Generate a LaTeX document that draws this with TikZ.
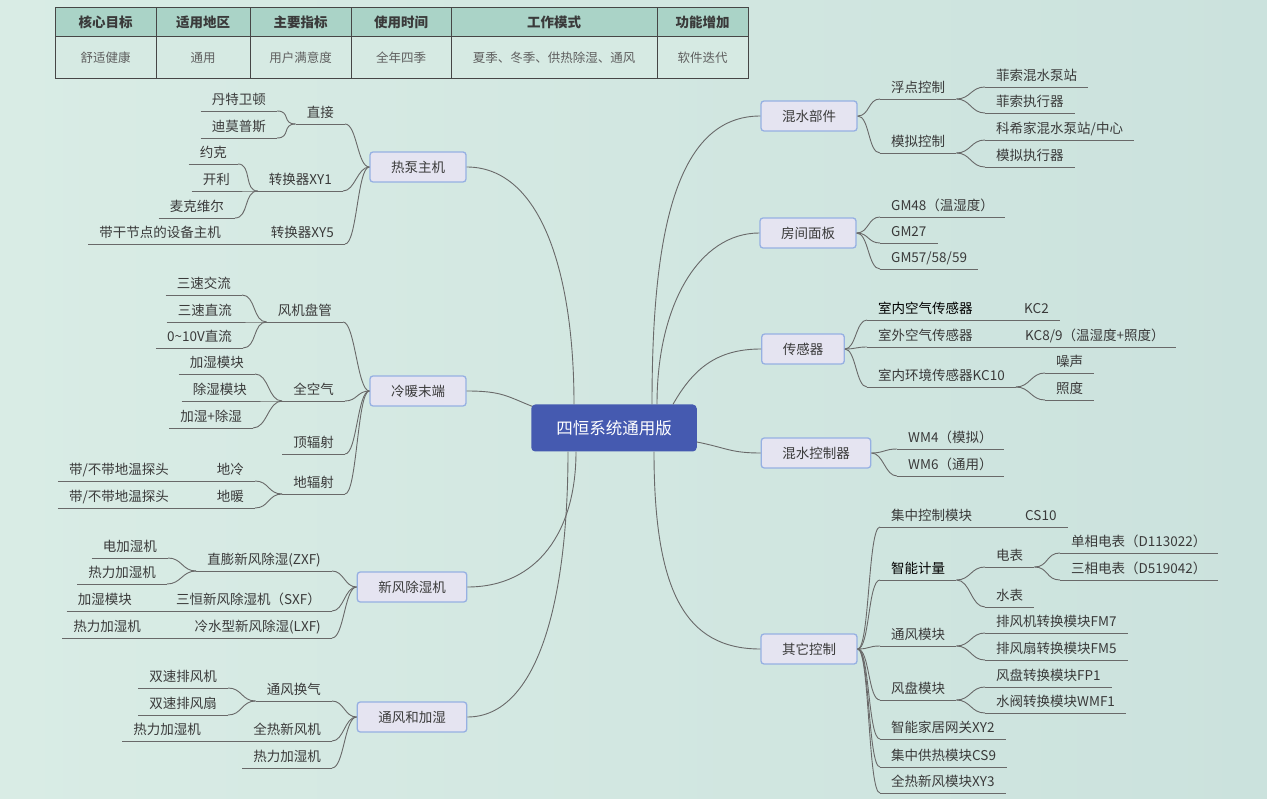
\documentclass[tikz,border=0pt]{standalone}
\usepackage{fontspec}
\setmainfont{Noto Sans CJK SC}
\usetikzlibrary{calc}

\definecolor{bgl}{RGB}{217,236,229}
\definecolor{bgr}{RGB}{203,226,221}
\definecolor{lnc}{RGB}{105,105,105}
\definecolor{txc}{RGB}{58,58,58}
\definecolor{boxf}{RGB}{229,228,241}
\definecolor{boxd}{RGB}{150,176,226}
\definecolor{hubf}{RGB}{69,90,176}
\definecolor{tabh}{RGB}{170,211,199}
\definecolor{tabb}{RGB}{214,234,227}
\definecolor{tabd}{RGB}{70,70,70}
\definecolor{tabt}{RGB}{95,95,95}

\newcommand\fitem{\fontsize{13.5}{15}\selectfont}

\tikzset{
  lnk/.style={draw=lnc, line width=0.9pt},
  item/.style={font=\fitem, text=txc, inner xsep=11pt, inner ysep=3pt,
    text height=10.5pt, text depth=3pt,
    append after command={(\tikzlastnode.south west) edge[lnk] (\tikzlastnode.south east)}},
  iteml/.style={item, anchor=south east},
  itemr/.style={item, anchor=south west},
  topbox/.style={font=\fitem, text=txc, draw=boxd, fill=boxf, line width=1.3pt,
    rounded corners=3pt, minimum height=30pt, inner xsep=21pt, inner ysep=0pt},
  hubbox/.style={fill=hubf, text=white, font=\fontsize{16.5}{18}\selectfont,
    rounded corners=4pt, minimum height=47pt, inner xsep=25pt},
  tabhead/.style={draw=tabd, fill=tabh, line width=1pt, text=txc, inner sep=0pt,
    font=\fontsize{13.5}{15}\selectfont\bfseries, minimum height=29.5pt},
  tabbody/.style={draw=tabd, fill=tabb, line width=1pt, text=tabt, inner sep=0pt,
    font=\fontsize{12.5}{14}\selectfont, minimum height=42pt},
  lbr/.style={to path={.. controls +(-#1,0) and +(#1,0) .. (\tikztotarget)}},
  lbr/.default=14,
  rbr/.style={to path={.. controls +(#1,0) and +(-#1,0) .. (\tikztotarget)}},
  rbr/.default=14,
}

\begin{document}
\begin{tikzpicture}[x=1pt,y=-1pt]
\useasboundingbox (0,0) rectangle (1267,799);
\shade[left color=bgl, right color=bgr] (0,0) rectangle (1267,799);

% table
\node[tabhead, minimum width=101pt] (th1) at (105.5,22.25) {核心目标};
\node[tabhead, minimum width=94pt] (th2) at (203,22.25) {适用地区};
\node[tabhead, minimum width=101pt] (th3) at (300.5,22.25) {主要指标};
\node[tabhead, minimum width=100pt] (th4) at (401,22.25) {使用时间};
\node[tabhead, minimum width=206pt] (th5) at (554,22.25) {工作模式};
\node[tabhead, minimum width=91pt] (th6) at (702.5,22.25) {功能增加};
\node[tabbody, minimum width=101pt] (tb1) at (105.5,58) {舒适健康};
\node[tabbody, minimum width=94pt] (tb2) at (203,58) {通用};
\node[tabbody, minimum width=101pt] (tb3) at (300.5,58) {用户满意度};
\node[tabbody, minimum width=100pt] (tb4) at (401,58) {全年四季};
\node[tabbody, minimum width=206pt] (tb5) at (554,58) {夏季、冬季、供热除湿、通风};
\node[tabbody, minimum width=91pt] (tb6) at (702.5,58) {软件迭代};

% hub
\node[hubbox] (hub) at (614,428) {四恒系统通用版};

% main branches
\node[topbox] (hp) at (418,167) {热泵主机};
\node[topbox] (lt) at (418,391) {冷暖末端};
\node[topbox] (xf) at (412,587) {新风除湿机};
\node[topbox] (tf) at (412,717) {通风和加湿};
\node[topbox] (hs) at (809,116) {混水部件};
\node[topbox] (fj) at (808,233) {房间面板};
\node[topbox] (cg) at (803,349) {传感器};
\node[topbox] (hk) at (816,453) {混水控制器};
\node[topbox] (qt) at (809,649) {其它控制};

% hub to branches
\draw[lnk] ($(hub.north)+(-40,0)$) .. controls +(0,-130) and +(75,0) .. (hp.east);
\draw[lnk] ($(hub.north west)+(1,2)$) .. controls +(-25,-10) and +(35,0) .. (lt.east);
\draw[lnk] ($(hub.south)+(-38,0)$) .. controls +(0,80) and +(70,0) .. (xf.east);
\draw[lnk] ($(hub.south)+(-46,0)$) .. controls +(0,150) and +(70,0) .. (tf.east);
\draw[lnk] ($(hub.north)+(38,0)$) .. controls +(0,-170) and +(-85,0) .. (hs.west);
\draw[lnk] ($(hub.north)+(43,0)$) .. controls +(0,-100) and +(-60,0) .. (fj.west);
\draw[lnk] ($(hub.north)+(59,0)$) .. controls +(20,-35) and +(-45,0) .. (cg.west);
\draw[lnk] ($(hub.east)+(0,14)$) .. controls +(30,6) and +(-30,0) .. (hk.west);
\draw[lnk] ($(hub.south)+(40,0)$) .. controls +(0,140) and +(-75,0) .. (qt.west);

% 热泵主机
\node[iteml] (hp1) at (345,124) {直接};
\node[iteml] (hp11) at (277,111) {丹特卫顿};
\node[iteml] (hp12) at (277,138) {迪莫普斯};
\node[iteml] (hp2) at (343,191) {转换器XY1};
\node[iteml] (hp21) at (238,164) {约克};
\node[iteml] (hp22) at (241,191) {开利};
\node[iteml] (hp23) at (235,218) {麦克维尔};
\node[iteml] (hp3) at (345,244) {转换器XY5};
\node[iteml] (hp31) at (232,244) {带干节点的设备主机};
\draw[lnk] (hp.west) to[lbr=12] (hp1.south east);
\draw[lnk] (hp.west) to[lbr=12] (hp2.south east);
\draw[lnk] (hp.west) to[lbr=12] (hp3.south east);
\draw[lnk] (hp1.south west) to[lbr] (hp11.south east);
\draw[lnk] (hp1.south west) to[lbr] (hp12.south east);
\draw[lnk] (hp2.south west) to[lbr] (hp21.south east);
\draw[lnk] (hp2.south west) to[lbr] (hp22.south east);
\draw[lnk] (hp2.south west) to[lbr] (hp23.south east);
\draw[lnk] (hp3.south west) -- (hp31.south east);

% 冷暖末端
\node[iteml] (lt1) at (343,322) {风机盘管};
\node[iteml] (lt11) at (242,295) {三速交流};
\node[iteml] (lt12) at (243,322) {三速直流};
\node[iteml] (lt13) at (243,348) {0\textasciitilde10V直流};
\node[iteml] (lt2) at (345,401) {全空气};
\node[iteml] (lt21) at (255,374) {加湿模块};
\node[iteml] (lt22) at (258,401) {除湿模块};
\node[iteml] (lt23) at (253,428) {加湿+除湿};
\node[iteml] (lt3) at (345,454) {顶辐射};
\node[iteml] (lt4) at (345,494) {地辐射};
\node[iteml] (lt41) at (255,481) {地冷};
\node[iteml] (lt411) at (180,481) {带/不带地温探头};
\node[iteml] (lt42) at (255,508) {地暖};
\node[iteml] (lt421) at (180,508) {带/不带地温探头};
\draw[lnk] (lt.west) to[lbr=12] (lt1.south east);
\draw[lnk] (lt.west) to[lbr=12] (lt2.south east);
\draw[lnk] (lt.west) to[lbr=12] (lt3.south east);
\draw[lnk] (lt.west) to[lbr=12] (lt4.south east);
\draw[lnk] (lt1.south west) to[lbr] (lt11.south east);
\draw[lnk] (lt1.south west) to[lbr] (lt12.south east);
\draw[lnk] (lt1.south west) to[lbr] (lt13.south east);
\draw[lnk] (lt2.south west) to[lbr] (lt21.south east);
\draw[lnk] (lt2.south west) to[lbr] (lt22.south east);
\draw[lnk] (lt2.south west) to[lbr] (lt23.south east);
\draw[lnk] (lt4.south west) to[lbr] (lt41.south east);
\draw[lnk] (lt4.south west) to[lbr] (lt42.south east);
\draw[lnk] (lt41.south west) -- (lt411.south east);
\draw[lnk] (lt42.south west) -- (lt421.south east);

% 新风除湿机
\node[iteml] (xf1) at (332,571) {直膨新风除湿(ZXF)};
\node[iteml] (xf11) at (168,558) {电加湿机};
\node[iteml] (xf12) at (167,584) {热力加湿机};
\node[iteml] (xf2) at (332,611) {三恒新风除湿机（SXF）};
\node[iteml] (xf21) at (143,611) {加湿模块};
\node[iteml] (xf3) at (332,638) {冷水型新风除湿(LXF)};
\node[iteml] (xf31) at (152,638) {热力加湿机};
\draw[lnk] (xf.west) to[lbr=12] (xf1.south east);
\draw[lnk] (xf.west) to[lbr=12] (xf2.south east);
\draw[lnk] (xf.west) to[lbr=12] (xf3.south east);
\draw[lnk] (xf1.south west) to[lbr] (xf11.south east);
\draw[lnk] (xf1.south west) to[lbr] (xf12.south east);
\draw[lnk] (xf2.south west) -- (xf21.south east);
\draw[lnk] (xf3.south west) -- (xf31.south east);

% 通风和加湿
\node[iteml] (tf1) at (332,701) {通风换气};
\node[iteml] (tf11) at (228,688) {双速排风机};
\node[iteml] (tf12) at (228,715) {双速排风扇};
\node[iteml] (tf2) at (332,741) {全热新风机};
\node[iteml] (tf21) at (212,741) {热力加湿机};
\node[iteml] (tf3) at (332,768) {热力加湿机};
\draw[lnk] (tf.west) to[lbr=12] (tf1.south east);
\draw[lnk] (tf.west) to[lbr=12] (tf2.south east);
\draw[lnk] (tf.west) to[lbr=12] (tf3.south east);
\draw[lnk] (tf1.south west) to[lbr] (tf11.south east);
\draw[lnk] (tf1.south west) to[lbr] (tf12.south east);
\draw[lnk] (tf2.south west) -- (tf21.south east);

% 混水部件
\node[itemr] (hs1) at (880,99) {浮点控制};
\node[itemr] (hs11) at (985,87) {菲索混水泵站};
\node[itemr] (hs12) at (985,113) {菲索执行器};
\node[itemr] (hs2) at (880,153) {模拟控制};
\node[itemr] (hs21) at (985,140) {科希家混水泵站/中心};
\node[itemr] (hs22) at (985,167) {模拟执行器};
\draw[lnk] (hs.east) to[rbr=12] (hs1.south west);
\draw[lnk] (hs.east) to[rbr=12] (hs2.south west);
\draw[lnk] (hs1.south east) to[rbr] (hs11.south west);
\draw[lnk] (hs1.south east) to[rbr] (hs12.south west);
\draw[lnk] (hs2.south east) to[rbr] (hs21.south west);
\draw[lnk] (hs2.south east) to[rbr] (hs22.south west);

% 房间面板
\node[itemr] (fj1) at (880,217) {GM48（温湿度）};
\node[itemr] (fj2) at (880,243) {GM27};
\node[itemr] (fj3) at (880,269) {GM57/58/59};
\draw[lnk] (fj.east) to[rbr=12] (fj1.south west);
\draw[lnk] (fj.east) to[rbr=12] (fj2.south west);
\draw[lnk] (fj.east) to[rbr=12] (fj3.south west);

% 传感器
\node[itemr, text=black] (cg1) at (867,320) {室内空气传感器};
\node[itemr] (cg11) at (1013,320) {KC2};
\node[itemr] (cg2) at (867,347) {室外空气传感器};
\node[itemr] (cg21) at (1014,347) {KC8/9（温湿度+照度）};
\node[itemr] (cg3) at (867,387) {室内环境传感器KC10};
\node[itemr] (cg31) at (1045,373) {噪声};
\node[itemr] (cg32) at (1045,400) {照度};
\draw[lnk] (cg.east) to[rbr=11] (cg1.south west);
\draw[lnk] (cg.east) to[rbr=11] (cg2.south west);
\draw[lnk] (cg.east) to[rbr=11] (cg3.south west);
\draw[lnk] (cg1.south east) -- (cg11.south west);
\draw[lnk] (cg2.south east) -- (cg21.south west);
\draw[lnk] (cg3.south east) to[rbr] (cg31.south west);
\draw[lnk] (cg3.south east) to[rbr] (cg32.south west);

% 混水控制器
\node[itemr] (hk1) at (897,449) {WM4（模拟）};
\node[itemr] (hk2) at (897,476) {WM6（通用）};
\draw[lnk] (hk.east) to[rbr=12] (hk1.south west);
\draw[lnk] (hk.east) to[rbr=12] (hk2.south west);

% 其它控制
\node[itemr] (qt1) at (880,527) {集中控制模块};
\node[itemr] (qt11) at (1014,527) {CS10};
\node[itemr, text=black] (qt2) at (880,580) {智能计量};
\node[itemr] (qt21) at (985,567) {电表};
\node[itemr] (qt211) at (1060,553) {单相电表（D113022）};
\node[itemr] (qt212) at (1060,580) {三相电表（D519042）};
\node[itemr] (qt22) at (985,607) {水表};
\node[itemr] (qt3) at (880,646) {通风模块};
\node[itemr] (qt31) at (985,633) {排风机转换模块FM7};
\node[itemr] (qt32) at (985,660) {排风扇转换模块FM5};
\node[itemr] (qt4) at (880,700) {风盘模块};
\node[itemr] (qt41) at (985,687) {风盘转换模块FP1};
\node[itemr] (qt42) at (985,713) {水阀转换模块WMF1};
\node[itemr] (qt5) at (880,739) {智能家居网关XY2};
\node[itemr] (qt6) at (880,767) {集中供热模块CS9};
\node[itemr] (qt7) at (880,793) {全热新风模块XY3};
\draw[lnk] (qt.east) to[rbr=12] (qt1.south west);
\draw[lnk] (qt.east) to[rbr=12] (qt2.south west);
\draw[lnk] (qt.east) to[rbr=12] (qt3.south west);
\draw[lnk] (qt.east) to[rbr=12] (qt4.south west);
\draw[lnk] (qt.east) to[rbr=12] (qt5.south west);
\draw[lnk] (qt.east) to[rbr=12] (qt6.south west);
\draw[lnk] (qt.east) to[rbr=12] (qt7.south west);
\draw[lnk] (qt1.south east) -- (qt11.south west);
\draw[lnk] (qt2.south east) to[rbr] (qt21.south west);
\draw[lnk] (qt2.south east) to[rbr] (qt22.south west);
\draw[lnk] (qt21.south east) to[rbr] (qt211.south west);
\draw[lnk] (qt21.south east) to[rbr] (qt212.south west);
\draw[lnk] (qt3.south east) to[rbr] (qt31.south west);
\draw[lnk] (qt3.south east) to[rbr] (qt32.south west);
\draw[lnk] (qt4.south east) to[rbr] (qt41.south west);
\draw[lnk] (qt4.south east) to[rbr] (qt42.south west);
\end{tikzpicture}
\end{document}
